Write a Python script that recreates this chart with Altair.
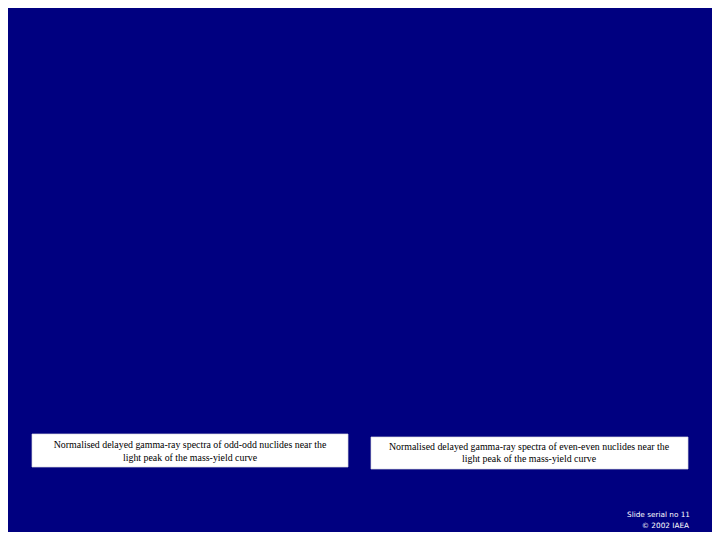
import altair as alt
import pandas as pd

# Slide content (no plotted data in the reference: two caption boxes and a footer)
caption_lines_left = [
    "Normalised delayed gamma-ray spectra of odd-odd nuclides near the",
    "light peak of the mass-yield curve",
]
caption_lines_right = [
    "Normalised delayed gamma-ray spectra of even-even nuclides near the",
    "light peak of the mass-yield curve",
]
footer_lines = ["Slide serial no 11", "\u00a9 2002 IAEA"]

# Box extents in slide coordinates (window pixels)
box_x0 = [32, 371]
box_x1 = [348, 688]
box_y0 = [434, 437]
box_y1 = [467, 469]
caption_centre_x = [190, 529]
caption_line_y_left = [445, 458]
caption_line_y_right = [447, 459]
footer_x = [690, 689]
footer_y = [515, 526]

W, H = 704, 524
xs = alt.Scale(domain=[8, 712], range=[0, W])
ys = alt.Scale(domain=[8, 532], range=[0, H])

boxes = pd.DataFrame({"x0": box_x0, "x1": box_x1, "y0": box_y0, "y1": box_y1})
caps = pd.DataFrame({
    "text": caption_lines_left + caption_lines_right,
    "x": [caption_centre_x[0]] * 2 + [caption_centre_x[1]] * 2,
    "y": caption_line_y_left + caption_line_y_right,
})
foot = pd.DataFrame({"text": footer_lines, "x": footer_x, "y": footer_y})

noax = dict(axis=None)

rects = alt.Chart(boxes).mark_rect(color="white", stroke="#d8d8e0", strokeWidth=0.7).encode(
    x=alt.X("x0:Q", scale=xs, **noax), x2="x1:Q",
    y=alt.Y("y0:Q", scale=ys, **noax), y2="y1:Q",
)

captions = alt.Chart(caps).mark_text(
    font="Liberation Serif", fontSize=9.9, color="black", align="center", baseline="middle"
).encode(
    x=alt.X("x:Q", scale=xs, **noax), y=alt.Y("y:Q", scale=ys, **noax), text="text:N"
)

footer = alt.Chart(foot).mark_text(
    font="DejaVu Sans", fontSize=7.3, color="white", align="right", baseline="middle"
).encode(
    x=alt.X("x:Q", scale=xs, **noax), y=alt.Y("y:Q", scale=ys, **noax), text="text:N"
)

chart = alt.layer(rects, captions, footer).properties(
    width=W, height=H, background="#000080", padding=0, autosize=alt.AutoSizeParams(type="none")
).configure_view(stroke=None)

chart.save("out.html", embed_options={"renderer": "svg", "actions": False})
